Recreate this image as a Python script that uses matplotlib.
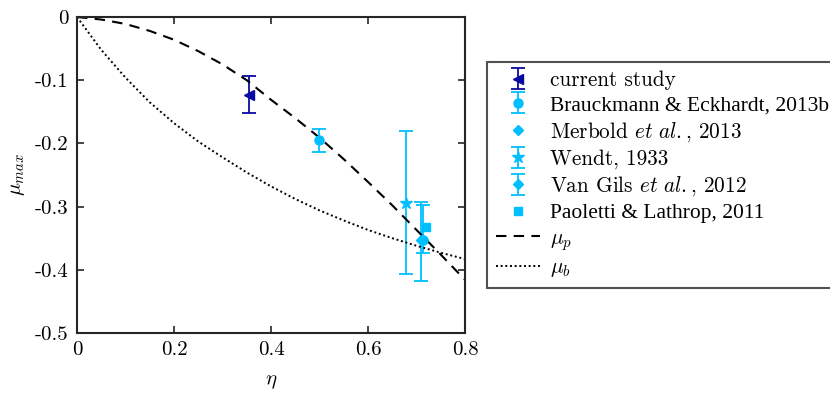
import matplotlib
matplotlib.use('Agg')
import matplotlib.pyplot as plt
import numpy as np

plt.rcParams['font.family'] = ['cmr10', 'DejaVu Serif']
plt.rcParams['mathtext.fontset'] = 'cm'
plt.rcParams['axes.unicode_minus'] = False
plt.rcParams['font.size'] = 15

# curves
eta_curve = [0.0, 0.05, 0.1, 0.15, 0.2, 0.25, 0.3, 0.35, 0.4, 0.45, 0.5,
             0.55, 0.6, 0.65, 0.7, 0.75, 0.8]
mu_p = [0.0, -0.004, -0.011, -0.022, -0.036, -0.054, -0.075, -0.100, -0.131,
        -0.160, -0.191, -0.225, -0.261, -0.298, -0.337, -0.376, -0.416]
mu_b = [0.0, -0.052, -0.096, -0.135, -0.168, -0.197, -0.222, -0.246, -0.268,
        -0.288, -0.306, -0.322, -0.337, -0.350, -0.362, -0.373, -0.383]

# data points (eta, mu, lower, upper)
cur_eta, cur_mu, cur_lo, cur_hi = [0.355], [-0.123], [-0.152], [-0.094]
bra_eta, bra_mu, bra_lo, bra_hi = [0.498, 0.714], [-0.195, -0.353], [-0.214, -0.374], [-0.177, -0.297]
mer_eta, mer_mu = [0.714], [-0.353]
wen_eta, wen_mu, wen_lo, wen_hi = [0.678], [-0.295], [-0.406], [-0.180]
gil_eta, gil_mu, gil_lo, gil_hi = [0.709], [-0.353], [-0.417], [-0.292]
pao_eta, pao_mu = [0.72], [-0.332]

dark = '#0a0aa0'
light = '#00bfff'

def err(mu, lo, hi):
    mu = np.array(mu)
    return [mu - np.array(lo), np.array(hi) - mu]

fig = plt.figure(figsize=(8.3, 3.93), dpi=100)
ax = fig.add_axes([0.0928, 0.1527, 0.4675, 0.804])

ebk = dict(capsize=5, elinewidth=1.3, capthick=1.3, linestyle='none')
h1 = ax.errorbar(cur_eta, cur_mu, yerr=err(cur_mu, cur_lo, cur_hi), fmt='<',
                 color=dark, markersize=7, label='current study', **ebk)
h2 = ax.errorbar(bra_eta, bra_mu, yerr=err(bra_mu, bra_lo, bra_hi), fmt='o',
                 color=light, markersize=6.5, label='Brauckmann & Eckhardt, 2013b', **ebk)
h3, = ax.plot(mer_eta, mer_mu, 'D', color=light, markersize=5, linestyle='none',
              label=r'Merbold $et\ al.$, 2013')
h4 = ax.errorbar(wen_eta, wen_mu, yerr=err(wen_mu, wen_lo, wen_hi), fmt='*',
                 color=light, markersize=9, label='Wendt, 1933', **ebk)
h5 = ax.errorbar(gil_eta, gil_mu, yerr=err(gil_mu, gil_lo, gil_hi), fmt='D',
                 color=light, markersize=5, label=r'Van Gils $et\ al.$, 2012', **ebk)
h6, = ax.plot(pao_eta, pao_mu, 's', color=light, markersize=6, linestyle='none',
              label='Paoletti & Lathrop, 2011')
h7, = ax.plot(eta_curve, mu_p, '--', color='black', linewidth=1.5, dashes=(5, 3.5),
              label=r'$\mu_p$')
h8, = ax.plot(eta_curve, mu_b, color='black', linewidth=1.4, dashes=(1, 1.4),
              label=r'$\mu_b$')

ax.set_xlim(0, 0.8)
ax.set_ylim(-0.5, 0)
ax.set_xticks([0, 0.2, 0.4, 0.6, 0.8])
ax.set_xticklabels(['0', '0.2', '0.4', '0.6', '0.8'])
ax.set_yticks([-0.5, -0.4, -0.3, -0.2, -0.1, 0])
ax.set_yticklabels(['-0.5', '-0.4', '-0.3', '-0.2', '-0.1', '0'])
ax.tick_params(direction='in', top=True, right=True, length=5, width=1.2,
               color='#262626', pad=6)
for s in ax.spines.values():
    s.set_linewidth(1.5)
    s.set_color('#262626')
ax.set_xlabel(r'$\eta$', labelpad=10)
ax.set_ylabel(r'$\mu_{max}$', labelpad=6)

# legend runs past the right edge, as in the original figure
leg = fig.legend(handles=[h1, h2, h3, h4, h5, h6, h7, h8], loc='upper left',
                 bbox_to_anchor=(487 / 830, 1 - 62 / 393), frameon=True,
                 fancybox=False, edgecolor='#262626', handlelength=2.1,
                 handletextpad=0.45, labelspacing=0.245, borderpad=0.4,
                 borderaxespad=0, fontsize=15.3)
leg.get_frame().set_linewidth(1.5)
# the two plain-text entries are set in a Times-like face in the original
for i in (1, 5):
    leg.get_texts()[i].set_fontfamily('Liberation Serif')
    leg.get_texts()[i].set_fontsize(15.5)

fig.savefig('out.png', dpi=100)
